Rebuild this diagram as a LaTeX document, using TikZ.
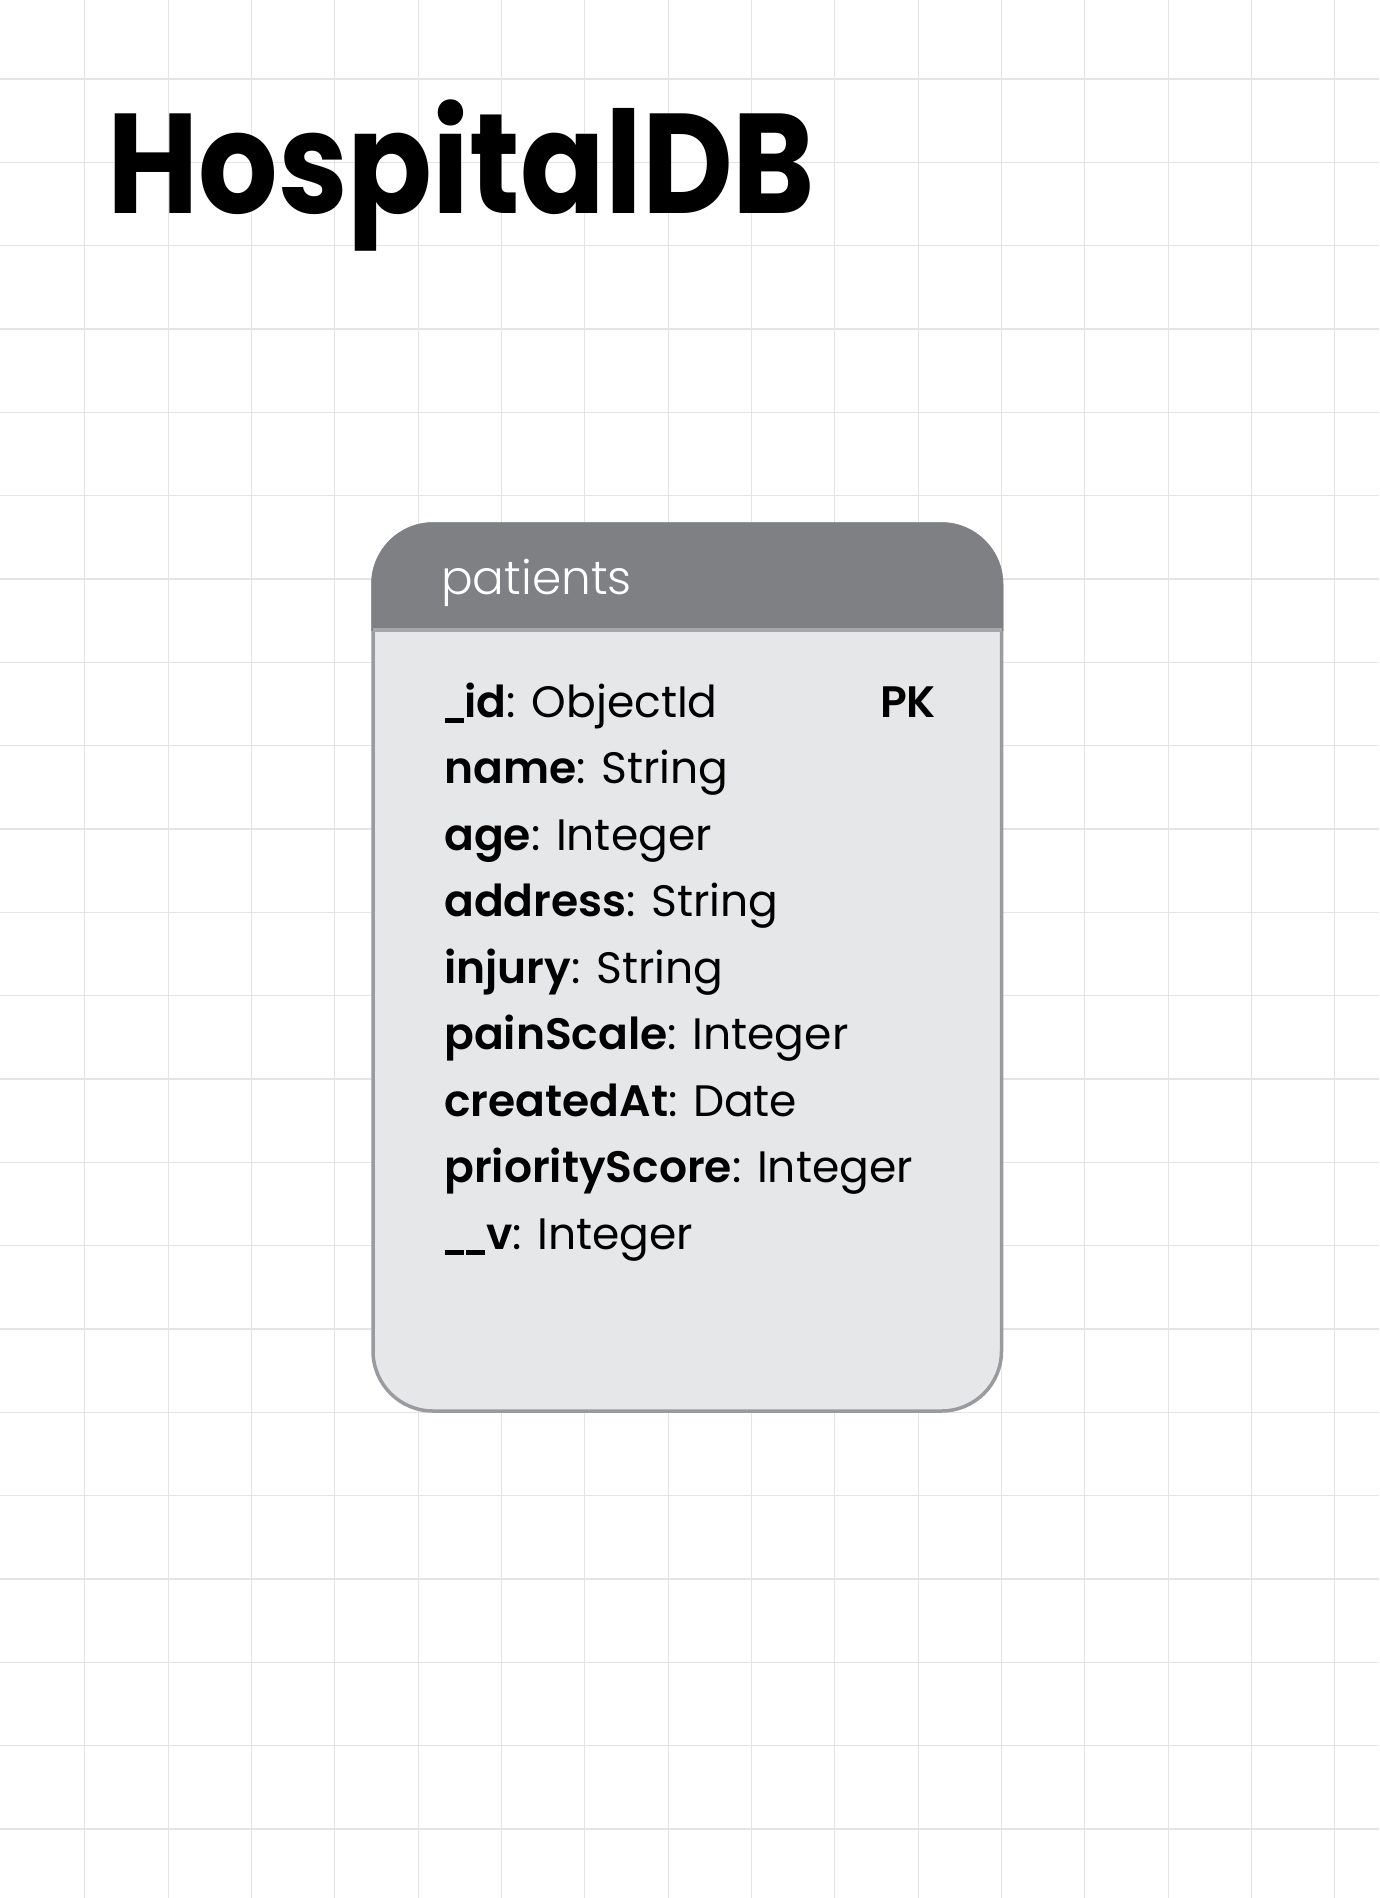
\documentclass[tikz,border=0pt]{standalone}
\usepackage{fontspec}
\setmainfont{Poppins}[BoldFont={Poppins SemiBold}]
\newfontfamily\titlefam{Poppins}[UprightFont={Poppins Bold}]
\newfontfamily\lightfam{Poppins Light}
\definecolor{gridcol}{HTML}{E4E4E4}
\definecolor{hdrcol}{HTML}{7F8084}
\definecolor{bodycol}{HTML}{E6E7E9}
\definecolor{bordcol}{HTML}{9A9B9E}
\definecolor{sepcol}{HTML}{A6A7A9}
\newcommand\titlefont{\fontsize{142}{142}\selectfont\titlefam}
\newcommand\fieldfont{\fontsize{44}{44}\selectfont}
\newcommand\hdrfont{\fontsize{47}{47}\selectfont\lightfam}
\newcommand\us{\rule[-6pt]{19pt}{5.5pt}}
\tikzset{
  fieldtext/.style={anchor=base west, inner sep=0pt, font=\fieldfont, text=black},
  gridline/.style={draw=gridcol, line width=1.2pt}
}
\begin{document}
\begin{tikzpicture}[x=1pt,y=-1pt]
\useasboundingbox (0,0) rectangle (1379,1898);
\fill[white] (0,0) rectangle (1379,1898);
% grid
\foreach \k in {1,...,16} { \draw[gridline] ({1.5+83.33*\k},0) -- ({1.5+83.33*\k},1898); }
\foreach \k in {0,...,21} { \draw[gridline] (0,{79+83.33*\k}) -- (1379,{79+83.33*\k}); }
% title
\node[anchor=base west, inner sep=0pt, font=\titlefont] (title) at (107,213) {\scalebox{0.88}[1]{HospitalDB}};
% table body
\draw[fill=bodycol, draw=bordcol, line width=3.5pt, rounded corners=60pt] (373,524) rectangle (1001.5,1411);
% header
\begin{scope}
\clip (350,500) rectangle (1030,630);
\fill[hdrcol, rounded corners=62pt] (371.25,522.25) rectangle (1003.25,760);
\end{scope}
\draw[sepcol, line width=4pt] (373,630) -- (1001.5,630);
\node[anchor=base west, inner sep=0pt, font=\hdrfont, text=white] (hdr) at (441,594) {patients};
% fields
\node[fieldtext] (f1) at (445,717) {\us\kern0.5pt\textbf{id}: ObjectId};
\node[fieldtext, font=\fieldfont\bfseries] (pk) at (880,717) {PK};
\node[fieldtext] (f2) at (444,783.5) {\textbf{name}: String};
\node[fieldtext] (f3) at (444,850) {\textbf{age}: Integer};
\node[fieldtext] (f4) at (444,916.5) {\textbf{address}: String};
\node[fieldtext] (f5) at (444,983) {\textbf{injury}: String};
\node[fieldtext] (f6) at (444,1049.5) {\textbf{painScale}: Integer};
\node[fieldtext] (f7) at (444,1116) {\textbf{createdAt}: Date};
\node[fieldtext] (f8) at (444,1182.5) {\textbf{priorityScore}: Integer};
\node[fieldtext] (f9) at (445,1249) {\us\kern2pt\us\kern1pt\textbf{v}: Integer};
\end{tikzpicture}
\end{document}
